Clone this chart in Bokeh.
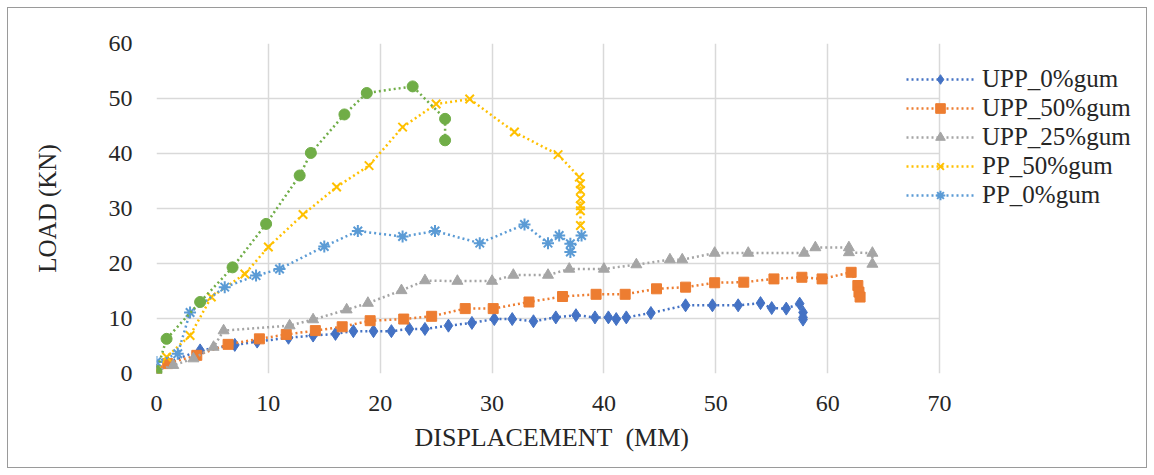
from bokeh.plotting import figure
from bokeh.models import Range1d, Legend, LegendItem, FixedTicker, Title
from bokeh.embed import file_html
from bokeh.resources import INLINE

# ---- data ----
upp0_x = [0, 1.0, 3.9, 7.0, 9.0, 11.8, 14.0, 16.0, 17.6, 19.4, 21.0, 22.6, 24.0, 26.1, 28.2, 30.2, 31.8,
          33.7, 35.7, 37.5, 39.2, 40.4, 41.1, 42.0, 44.2, 47.3, 49.7, 52.0, 54.0, 55.0, 56.3, 57.5, 57.8, 57.8, 57.8]
upp0_y = [0.5, 2.0, 4.2, 5.2, 5.8, 6.5, 6.9, 7.2, 7.7, 7.7, 7.7, 8.1, 8.1, 8.7, 9.2, 9.9, 9.9,
          9.5, 10.2, 10.6, 10.2, 10.2, 9.9, 10.2, 11.0, 12.4, 12.4, 12.4, 12.8, 11.9, 11.8, 12.7, 11.1, 10.2, 9.8]

upp50_x = [0, 1.0, 3.6, 6.4, 9.2, 11.6, 14.2, 16.6, 19.1, 22.1, 24.6, 27.6, 30.1, 33.3, 36.3, 39.3, 41.9,
           44.7, 47.3, 49.9, 52.5, 55.2, 57.7, 59.5, 62.1, 62.7, 62.8, 62.9]
upp50_y = [0.5, 1.8, 3.3, 5.3, 6.3, 7.1, 7.8, 8.5, 9.6, 9.9, 10.4, 11.8, 11.8, 13.0, 14.0, 14.4, 14.4,
           15.4, 15.7, 16.5, 16.6, 17.2, 17.5, 17.2, 18.4, 16.0, 14.8, 13.9]

upp25_x = [0, 1.5, 3.3, 5.1, 6.0, 11.9, 14.0, 17.0, 18.9, 21.9, 24.0, 26.9, 30.0, 31.9, 35.0, 36.9, 40.0,
           42.9, 45.9, 47.0, 49.9, 52.9, 57.9, 58.9, 61.9, 61.9, 64.0, 64.0]
upp25_y = [0.5, 1.5, 2.7, 4.8, 7.8, 8.7, 9.8, 11.6, 12.8, 15.1, 16.9, 16.8, 16.8, 17.9, 17.9, 19.0, 19.0,
           19.8, 20.7, 20.7, 21.9, 21.9, 21.9, 22.9, 22.9, 22.0, 21.9, 19.9]

pp50_x = [0, 0.9, 3.0, 4.9, 7.9, 10.0, 13.1, 16.1, 19.0, 22.0, 25.0, 28.0, 32.0, 35.9, 37.8, 37.9, 37.9,
          37.9, 37.9, 37.9, 37.9]
pp50_y = [0.5, 3.0, 6.9, 13.9, 18.1, 23.0, 28.9, 33.9, 37.8, 44.8, 49.0, 49.9, 43.9, 39.8, 35.7, 34.5, 33.3,
          31.8, 30.5, 29.6, 26.9]

pp0_x = [0, 1.9, 3.0, 6.1, 8.9, 11.0, 15.0, 18.0, 22.0, 24.9, 28.9, 32.9, 35.0, 36.0, 37.0, 37.0, 38.0]
pp0_y = [2.1, 3.6, 11.1, 15.7, 17.8, 19.0, 23.1, 25.9, 24.9, 25.9, 23.7, 27.1, 23.7, 25.1, 23.6, 22.1, 25.1]

green_x = [0, 0.9, 3.9, 6.8, 9.8, 12.8, 13.8, 16.8, 18.8, 22.9, 25.8, 25.8]
green_y = [0.3, 6.3, 13.0, 19.3, 27.2, 36.0, 40.1, 47.1, 51.0, 52.2, 46.3, 42.4]

x_ticks = [0, 10, 20, 30, 40, 50, 60, 70]
y_ticks = [0, 10, 20, 30, 40, 50, 60]

FONT = "Liberation Serif"
TXT = "#262626"

# the frame is widened to the right so the legend (which overlaps the chart's right edge) is not clipped;
# the data axis itself only runs 0..70
PLOT_W = 783          # pixels for 0..70
FRAME_W = 988
x_end = x_ticks[-1] * FRAME_W / PLOT_W

p = figure(frame_width=FRAME_W, frame_height=330, output_backend="svg", toolbar_location=None,
           x_range=Range1d(0, x_end), y_range=Range1d(0, 60),
           min_border_left=148, min_border_right=2, min_border_top=35, min_border_bottom=94)
p.styles = {"border": "1px solid #9a9a9a", "margin-left": "7px", "margin-top": "7px"}
p.outline_line_color = None
p.background_fill_color = "white"

for ax in (p.xaxis[0], p.yaxis[0]):
    ax.axis_line_color = None
    ax.major_tick_line_color = None
    ax.minor_tick_line_color = None
    ax.major_label_text_font = FONT
    ax.major_label_text_font_size = "24px"
    ax.major_label_text_color = TXT
    ax.axis_label_text_font = FONT
    ax.axis_label_text_font_size = "25px"
    ax.axis_label_text_font_style = "normal"
    ax.axis_label_text_color = TXT

p.xaxis[0].ticker = FixedTicker(ticks=x_ticks)
p.xaxis[0].bounds = (x_ticks[0], x_ticks[-1])
p.yaxis[0].ticker = FixedTicker(ticks=y_ticks)
p.yaxis[0].axis_label = "LOAD (KN)"
p.xaxis[0].major_label_standoff = 16
p.yaxis[0].major_label_standoff = 18
p.yaxis[0].axis_label_standoff = 45

# x-axis title, centred under the 0..70 part of the axis
xtitle = Title(text="DISPLACEMENT\u00a0 (MM)", align="left", offset=258, standoff=14,
               text_font=FONT, text_font_size="26px", text_font_style="normal", text_color=TXT)
p.add_layout(xtitle, "below")

GRID = "#d9d9d9"
p.xgrid.grid_line_color = GRID
p.xgrid.grid_line_width = 1.5
p.xgrid.ticker = FixedTicker(ticks=x_ticks)
yg = p.ygrid[0]
yg.ticker = FixedTicker(ticks=y_ticks)
if "cross_bounds" in yg.properties():
    yg.grid_line_color = GRID
    yg.grid_line_width = 1.5
    yg.cross_bounds = (x_ticks[0], x_ticks[-1])
else:
    yg.visible = False
    p.segment(x0=[x_ticks[0]] * len(y_ticks), x1=[x_ticks[-1]] * len(y_ticks), y0=y_ticks, y1=y_ticks,
              line_color=GRID, line_width=1.5, level="underlay")

series = [
    ("UPP_0%gum", upp0_x, upp0_y, "#4472C4", "diamond", 13),
    ("UPP_50%gum", upp50_x, upp50_y, "#ED7D31", "square", 10),
    ("UPP_25%gum", upp25_x, upp25_y, "#A5A5A5", "triangle", 11),
    ("PP_50%gum", pp50_x, pp50_y, "#FFC000", "x", 12),
    ("PP_0%gum", pp0_x, pp0_y, "#5B9BD5", "asterisk", 12),
    (None, green_x, green_y, "#70AD47", "circle", 11),
]

items = []
for label, xs, ys, col, mk, sz in series:
    ln = p.line(xs, ys, line_color=col, line_width=2.5, line_dash="2 3")
    if mk in ("x", "asterisk"):
        sc = p.scatter(xs, ys, marker=mk, size=sz, line_color=col, line_width=2)
    else:
        sc = p.scatter(xs, ys, marker=mk, size=sz, fill_color=col, line_color=col)
    if label:
        items.append(LegendItem(label=label, renderers=[ln, sc]))

legend = Legend(items=items, location=(750, 164), padding=0, margin=0, spacing=1,
                glyph_width=68, glyph_height=24, label_height=24, label_standoff=8,
                label_text_font=FONT, label_text_font_size="25px", label_text_color=TXT,
                background_fill_alpha=0, border_line_color=None)
p.add_layout(legend)

open("out.html", "w").write(file_html(p, INLINE))
